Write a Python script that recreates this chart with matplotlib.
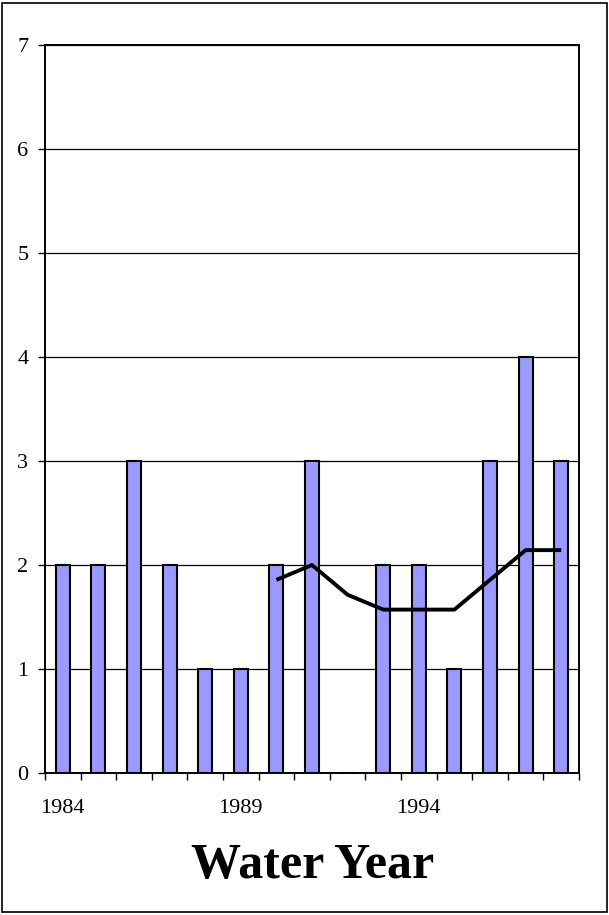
import matplotlib
matplotlib.use("Agg")
import matplotlib.pyplot as plt
from matplotlib.patches import Rectangle
import numpy as np

years = [1984, 1985, 1986, 1987, 1988, 1989, 1990, 1991, 1992, 1993, 1994, 1995, 1996, 1997, 1998]
counts = [2, 2, 3, 2, 1, 1, 2, 3, 0, 2, 2, 1, 3, 4, 3]
avg_years = [1990, 1991, 1992, 1993, 1994, 1995, 1996, 1997, 1998]
avg_values = [1.857, 2.0, 1.714, 1.571, 1.571, 1.571, 1.857, 2.143, 2.143]
xlabels = ["1984", "1989", "1994"]
yticks = [0, 1, 2, 3, 4, 5, 6, 7]

plt.rcParams['font.family'] = ['Liberation Serif', 'DejaVu Serif']

fig = plt.figure(figsize=(6.09, 9.15), dpi=100)
ax = fig.add_axes([45/609, 1-773/915, (579-45)/609, (773-45)/915])

x = np.arange(len(years))
ax.bar(x, counts, width=0.39, color='#9999FF', edgecolor='black', linewidth=1.5, zorder=3)
ax_idx = [years.index(y) for y in avg_years]
ax.plot(ax_idx, avg_values, color='black', linewidth=2.8, zorder=4, solid_capstyle='butt')

ax.set_xlim(-0.5, len(years) - 0.5)
ax.set_ylim(0, 7)
ax.set_yticks(yticks)
ax.set_yticklabels([str(v) for v in yticks], fontsize=16)
for v in yticks[1:]:
    ax.axhline(v, color='black', linewidth=0.9, zorder=1)

# x ticks at category boundaries, labels at selected categories
ax.set_xticks(np.arange(-0.5, len(years), 1.0))
ax.set_xticklabels([])
ax.set_xticks([years.index(int(l)) for l in xlabels], minor=True)
ax.set_xticklabels(xlabels, minor=True, fontsize=16)
ax.tick_params(axis='x', which='major', length=5, width=1, direction='out')
ax.tick_params(axis='x', which='minor', length=0, pad=19)
ax.tick_params(axis='y', length=5, width=1, direction='out', pad=7)

for s in ax.spines.values():
    s.set_linewidth(1.4)
    s.set_color('black')

fig.text(0.513, 0.054, "Water Year", fontsize=36, fontweight='bold', ha='center', va='center')

fig.patches.append(Rectangle((0.004, 0.003), 0.992, 0.994, transform=fig.transFigure,
                             fill=False, edgecolor='black', linewidth=1.2))

fig.savefig("out.png", dpi=100)
